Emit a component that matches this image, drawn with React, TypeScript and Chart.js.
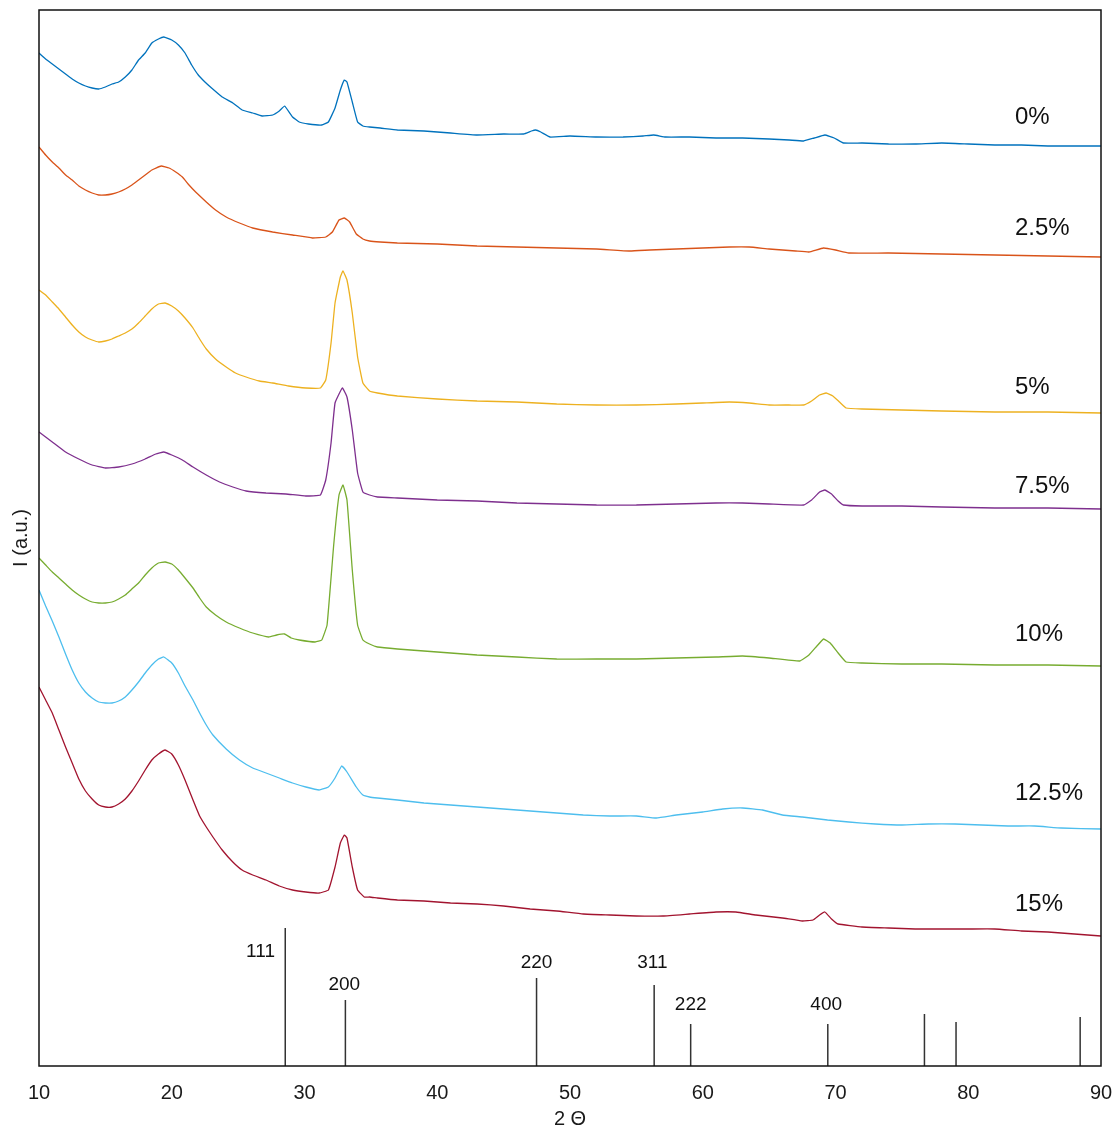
import { useEffect, useRef } from "react";
import { Chart, registerables } from "chart.js";

Chart.register(...registerables);

type Pt = [number, number];

// 2θ axis ticks
const xTicks = [10, 20, 30, 40, 50, 60, 70, 80, 90];

// sample names (dopant content) and trace colours
const sampleNames = ["0%", "2.5%", "5%", "7.5%", "10%", "12.5%", "15%"];
const sampleColors = ["#0072BD", "#D95319", "#EDB120", "#7E2F8E", "#77AC30", "#4DBEEE", "#A2142F"];

// XRD traces: [2θ, intensity (a.u., stacked)]
const trace0: Pt[] = [
  [10, 1013], [10.5, 1007], [11, 1002], [11.5, 997], [12, 992], [12.5, 987], [13, 983], [13.5, 980],
  [14, 978], [14.5, 977], [15, 979], [15.5, 982], [16, 984], [16.5, 989], [17, 996], [17.5, 1006],
  [18, 1013], [18.5, 1023], [19, 1027], [19.4, 1029], [20, 1026], [20.5, 1021], [21, 1013], [21.5, 1001],
  [22, 991], [22.5, 984], [23, 978], [23.8, 969], [24.6, 963], [25.3, 956], [26.1, 953], [26.8, 950],
  [27.6, 951], [28.1, 955], [28.5, 960], [29.1, 949], [29.6, 944], [30.3, 942], [31.3, 941], [31.8, 944],
  [32.3, 958], [32.7, 976], [33.0, 986], [33.2, 984], [33.6, 964], [34.0, 944], [34.4, 940], [34.9, 939],
  [35.7, 938], [37, 936], [39, 935], [41, 933], [43, 931], [45, 932], [46.5, 932], [47.1, 935],
  [47.4, 936], [47.8, 934], [48.5, 929], [50, 930], [52, 929], [54, 929], [55.5, 930], [56.3, 931],
  [57.2, 929], [59, 929], [61, 928], [63, 928], [65, 927], [66.5, 926], [67.6, 925], [68.4, 928],
  [69.2, 931], [69.9, 928], [70.6, 923], [72, 923], [74, 922], [76, 922], [78, 923], [80, 922],
  [82, 921], [84, 921], [86, 920], [88, 920], [90, 920],
];
const trace1: Pt[] = [
  [10, 919], [10.5, 911], [11, 904], [11.5, 898], [12, 891], [12.5, 886], [13, 880], [13.5, 876],
  [14, 873], [14.5, 871], [15, 871], [15.5, 872], [16, 874], [16.5, 877], [17, 881], [17.5, 886],
  [18, 891], [18.5, 896], [19.2, 900], [19.8, 898], [20.3, 894], [20.8, 889], [21.3, 881], [21.8, 874],
  [22.6, 864], [23.3, 856], [24.1, 849], [25.1, 843], [26.1, 838], [27.6, 834], [29.1, 831], [30.6, 828],
  [31.6, 829], [32.1, 834], [32.6, 846], [33.0, 848], [33.4, 844], [33.9, 832], [34.4, 827], [34.9, 825],
  [35.7, 824], [37, 823], [40, 822], [43, 820], [46, 819], [49, 818], [52, 817], [54.5, 815],
  [56, 816], [58, 817], [60, 818], [62, 819], [63.5, 819], [65, 817], [67, 815], [68, 814],
  [69.1, 818], [70, 816], [71, 813], [74, 813], [78, 812], [82, 811], [86, 810], [90, 809],
];
const trace2: Pt[] = [
  [10, 776], [10.5, 771], [11, 764], [11.5, 757], [12, 749], [12.5, 741], [13, 734], [13.5, 729],
  [14, 726], [14.5, 724], [15, 725], [15.5, 727], [16, 730], [16.5, 733], [17, 737], [17.5, 743],
  [18, 750], [18.5, 757], [19, 762], [19.5, 763], [20, 760], [20.5, 755], [21, 748], [21.6, 738],
  [22.1, 727], [22.6, 717], [23.3, 707], [24.1, 699], [24.8, 693], [25.6, 689], [26.6, 685], [27.6, 683],
  [28.8, 680], [30.1, 678], [31.2, 678], [31.6, 686], [32.0, 723], [32.3, 763], [32.7, 789], [32.9, 795],
  [33.2, 786], [33.6, 753], [34.0, 709], [34.4, 683], [34.9, 675], [35.5, 673], [37, 670], [40, 667],
  [43, 665], [46, 664], [49, 662], [52, 661], [55, 661], [58, 662], [60, 663], [62, 664],
  [63.5, 663], [65, 661], [66.5, 661], [67.6, 661], [68.2, 665], [68.8, 671], [69.3, 673], [69.8, 670],
  [70.3, 664], [70.8, 658], [72, 657], [75, 656], [78, 655], [82, 654], [86, 654], [90, 653],
];
const trace3: Pt[] = [
  [10, 634], [11, 624], [12, 614], [13, 607], [14, 601], [15, 598], [16, 599], [17, 602],
  [18, 607], [18.8, 612], [19.4, 614], [20, 611], [20.8, 606], [21.6, 599], [22.6, 591], [23.6, 584],
  [24.6, 579], [25.6, 575], [27.1, 573], [28.6, 572], [30.1, 570], [31.2, 571], [31.6, 586], [32.0, 623],
  [32.3, 663], [32.85, 678], [33.2, 669], [33.6, 636], [34.0, 593], [34.4, 574], [34.9, 571], [35.5, 569],
  [37, 568], [40, 566], [43, 565], [46, 563], [49, 562], [52, 561], [55, 561], [58, 562],
  [61, 563], [63, 563], [65, 562], [67.6, 561], [68.2, 566], [68.8, 574], [69.2, 576], [69.7, 572],
  [70.2, 565], [70.6, 561], [72, 560], [75, 560], [78, 559], [82, 558], [86, 558], [90, 557],
];
const trace4: Pt[] = [
  [10, 508], [10.5, 501], [11, 494], [11.5, 488], [12, 482], [12.5, 476], [13, 471], [13.5, 467],
  [14, 464], [14.5, 463], [15, 463], [15.5, 464], [16, 467], [16.5, 471], [17, 477], [17.5, 483],
  [18, 491], [18.5, 498], [19, 503], [19.5, 504], [20, 502], [20.5, 496], [21, 488], [21.6, 478],
  [22.1, 468], [22.6, 459], [23.3, 451], [24.1, 444], [25.1, 438], [26.1, 433], [27.3, 429], [27.9, 431],
  [28.5, 432], [29, 428], [29.6, 426], [30.8, 424], [31.3, 426], [31.7, 441], [32.2, 521], [32.6, 571],
  [32.9, 581], [33.2, 566], [33.6, 496], [34.0, 441], [34.4, 426], [34.9, 422], [35.5, 419], [37, 417],
  [40, 414], [43, 411], [46, 409], [49, 407], [52, 407], [55, 407], [58, 408], [61, 409],
  [63, 410], [65, 408], [67.3, 405], [68, 411], [68.6, 420], [69.1, 427], [69.6, 423], [70.2, 413],
  [70.8, 404], [72, 403], [75, 402], [78, 402], [82, 401], [86, 401], [90, 400],
];
const trace5: Pt[] = [
  [10, 476], [10.5, 460], [11, 445], [11.5, 429], [12, 412], [12.5, 396], [13, 383], [13.5, 374],
  [14, 368], [14.5, 364], [15, 363], [15.5, 363], [16, 365], [16.5, 369], [17, 376], [17.5, 384],
  [18, 393], [18.5, 401], [19, 407], [19.4, 409], [20, 403], [20.5, 393], [21, 380], [21.6, 366],
  [22.1, 353], [22.6, 341], [23.1, 331], [24.1, 317], [25.1, 306], [26.1, 298], [27.1, 293], [28.1, 288],
  [29.1, 283], [30.1, 279], [31.1, 276], [31.8, 279], [32.3, 288], [32.8, 300], [33.2, 294], [33.9, 279],
  [34.4, 271], [34.9, 269], [35.5, 268], [37, 266], [39, 263], [41, 261], [43, 259], [45, 257],
  [47, 255], [49, 253], [51, 251], [53, 250], [55, 250], [56.5, 248], [58, 251], [60, 254],
  [61.5, 257], [63, 258], [64.5, 256], [66, 251], [67.5, 249], [69.4, 246], [71, 244], [73, 242],
  [75, 241], [77, 242], [79, 242], [81, 241], [83, 240], [85, 240], [87, 238], [90, 237],
];
const trace6: Pt[] = [
  [10, 379], [10.5, 366], [11, 353], [11.5, 336], [12, 319], [12.5, 303], [13, 287], [13.5, 275],
  [14, 267], [14.5, 261], [15, 259], [15.5, 259], [16, 262], [16.5, 267], [17, 275], [17.5, 285],
  [18, 296], [18.5, 306], [19, 312], [19.5, 316], [20, 312], [20.5, 301], [21, 286], [21.6, 266],
  [22.1, 250], [22.6, 239], [23.1, 229], [23.8, 216], [24.6, 204], [25.3, 196], [26.1, 191], [27.1, 186],
  [28.1, 180], [29.1, 176], [30.1, 174], [31.1, 173], [31.8, 176], [32.3, 199], [32.7, 223], [33.0, 231],
  [33.2, 228], [33.6, 199], [34.0, 176], [34.5, 169], [34.9, 169], [35.5, 168], [37, 166], [39, 165],
  [41, 163], [43, 162], [45, 160], [47, 157], [49, 155], [51, 152], [53, 151], [55, 150],
  [57, 150], [59, 152], [61, 154], [62.5, 154], [64, 151], [66, 148], [67.5, 145], [68.3, 146],
  [68.8, 151], [69.2, 154], [69.7, 147], [70.2, 142], [72, 139], [74, 138], [76, 137], [78, 137],
  [80, 137], [82, 137], [84, 135], [86, 134], [88, 132], [90, 130],
];
const traces = [trace0, trace1, trace2, trace3, trace4, trace5, trace6];

// reference pattern (CeO2 fluorite): peak positions and relative heights
const refPositions = [28.55, 33.08, 47.48, 56.34, 59.09, 69.42, 76.7, 79.08, 88.43];
const refHeights = [138, 66, 88, 81, 42, 42, 52, 44, 49];

// hkl annotations: text, 2θ anchor, intensity anchor (text baseline)
const hklText = ["111", "200", "220", "311", "222", "400"];
const hklX = [26.69, 33.0, 47.48, 56.2, 59.09, 69.3];
const hklLevel = [109, 76, 98, 98, 56, 56];

// sample name anchors (intensity at text centre) and common 2θ start
const sampleLabelLevel = [949, 838, 679, 580, 432, 273, 162];
const sampleLabelX = 83.52;

const FONT = '"Liberation Sans", Arial, Helvetica, sans-serif';

const annotations = {
  id: "xrdAnnotations",
  afterDatasetsDraw(chart: any) {
    const { ctx, chartArea: a, scales } = chart;
    const x = scales.x;
    const y = scales.y;
    ctx.save();
    ctx.strokeStyle = "#111";
    ctx.lineWidth = 1.5;
    ctx.strokeRect(a.left, a.top, a.right - a.left, a.bottom - a.top);

    ctx.fillStyle = "#111";
    ctx.font = `24px ${FONT}`;
    ctx.textAlign = "left";
    ctx.textBaseline = "middle";
    sampleNames.forEach((n, i) => {
      ctx.fillText(n, x.getPixelForValue(sampleLabelX), y.getPixelForValue(sampleLabelLevel[i]));
    });

    ctx.font = `19px ${FONT}`;
    ctx.textAlign = "center";
    ctx.textBaseline = "alphabetic";
    hklText.forEach((t, i) => {
      ctx.fillText(t, x.getPixelForValue(hklX[i]), y.getPixelForValue(hklLevel[i]));
    });
    ctx.restore();
  },
};

export default function App() {
  const ref = useRef<HTMLCanvasElement>(null);

  useEffect(() => {
    const canvas = ref.current;
    if (!canvas) return;

    const traceSets = traces.map((t, i) => ({
      label: sampleNames[i],
      data: t.map(([x, y]) => ({ x, y })),
      borderColor: sampleColors[i],
      backgroundColor: sampleColors[i],
      borderWidth: 1.3,
      pointRadius: 0,
      tension: 0.1,
      fill: false,
    }));

    const stickData: { x: number; y: number | null }[] = [];
    refPositions.forEach((p, i) => {
      stickData.push({ x: p, y: 0 }, { x: p, y: refHeights[i] }, { x: p, y: null });
    });

    const chart = new Chart(canvas, {
      type: "line",
      data: {
        datasets: [
          ...traceSets,
          {
            label: "ref",
            data: stickData as any,
            borderColor: "#333",
            borderWidth: 1.5,
            pointRadius: 0,
            tension: 0,
            spanGaps: false,
            fill: false,
          },
        ],
      },
      options: {
        animation: false,
        responsive: true,
        maintainAspectRatio: false,
        layout: { padding: { left: 0, top: 10, right: 17, bottom: 0 } },
        plugins: { legend: { display: false }, tooltip: { enabled: false } },
        scales: {
          x: {
            type: "linear",
            min: 10,
            max: 90,
            afterBuildTicks: (s: any) => {
              s.ticks = xTicks.map((v) => ({ value: v }));
            },
            afterFit: (s: any) => {
              s.height = 67;
              s.paddingLeft = 0;
              s.paddingRight = 0;
            },
            grid: { display: false, drawTicks: false },
            border: { display: false },
            ticks: { padding: 15, color: "#1a1a1a", font: { family: FONT, size: 20 }, maxRotation: 0 },
            title: {
              display: true,
              text: "2 Θ",
              color: "#1a1a1a",
              font: { family: FONT, size: 20 },
              padding: { top: 0, bottom: 2 },
            },
          },
          y: {
            type: "linear",
            min: 0,
            max: 1056,
            afterFit: (s: any) => {
              s.width = 39;
              s.paddingTop = 0;
              s.paddingBottom = 0;
            },
            grid: { display: false, drawTicks: false },
            border: { display: false },
            ticks: { display: false },
            title: {
              display: true,
              text: "I (a.u.)",
              color: "#1a1a1a",
              font: { family: FONT, size: 20 },
              padding: { top: 9, bottom: 9 },
            },
          },
        },
      },
      plugins: [annotations],
    });

    return () => chart.destroy();
  }, []);

  return (
    <div style={{ position: "fixed", left: 0, top: 0, width: 1118, height: 1133, background: "#fff" }}>
      <canvas ref={ref} />
    </div>
  );
}
